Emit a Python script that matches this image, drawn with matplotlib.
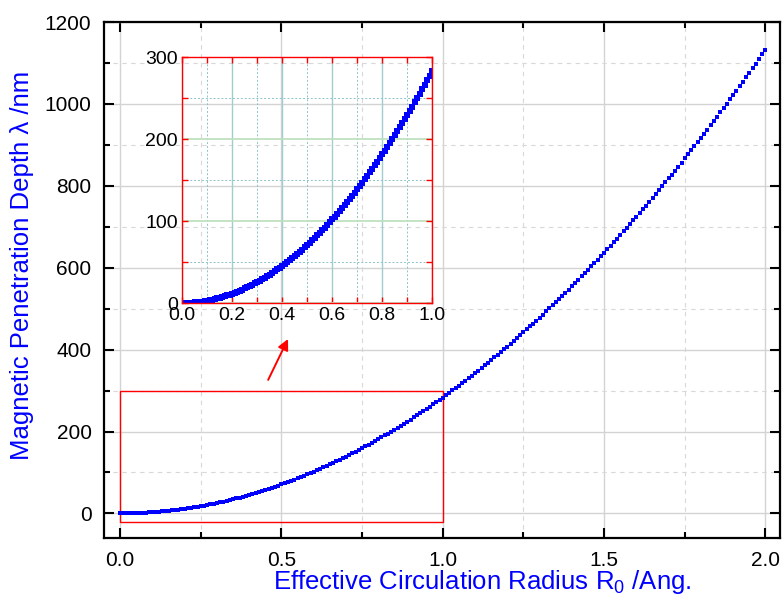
import numpy as np
import matplotlib
matplotlib.use("Agg")
import matplotlib.pyplot as plt
from matplotlib.ticker import MultipleLocator
from matplotlib.patches import Rectangle

plt.rcParams['font.family'] = ['Liberation Sans', 'DejaVu Sans']
plt.rcParams['mathtext.default'] = 'regular'

# effective circulation radius R0 (Ang.), step 0.01
radius = np.arange(201) / 100.0
# magnetic penetration depth (nm)
depth = [
    0.0, 0.0, 0.1, 0.3, 0.5, 0.7, 1.0, 1.4, 1.8, 2.3,
    2.8, 3.4, 4.1, 4.8, 5.5, 6.4, 7.2, 8.2, 9.2, 10.2,
    11.3, 12.5, 13.7, 15.0, 16.3, 17.7, 19.1, 20.6, 22.2, 23.8,
    25.5, 27.2, 29.0, 30.8, 32.7, 34.7, 36.7, 38.7, 40.9, 43.0,
    45.3, 47.6, 49.9, 52.3, 54.8, 57.3, 59.9, 62.5, 65.2, 68.0,
    70.8, 73.6, 76.5, 79.5, 82.5, 85.6, 88.8, 92.0, 95.2, 98.5,
    101.9, 105.3, 108.8, 112.3, 115.9, 119.6, 123.3, 127.0, 130.9, 134.7,
    138.7, 142.7, 146.7, 150.8, 155.0, 159.2, 163.5, 167.8, 172.2, 176.6,
    181.1, 185.7, 190.3, 195.0, 199.7, 204.5, 209.3, 214.2, 219.2, 224.2,
    229.2, 234.4, 239.5, 244.8, 250.1, 255.4, 260.8, 266.3, 271.8, 277.4,
    283.0, 288.7, 294.4, 300.2, 306.1, 312.0, 318.0, 324.0, 330.1, 336.2,
    342.4, 348.7, 355.0, 361.4, 367.8, 374.3, 380.8, 387.4, 394.1, 400.8,
    407.5, 414.3, 421.2, 428.2, 435.1, 442.2, 449.3, 456.5, 463.7, 470.9,
    478.3, 485.7, 493.1, 500.6, 508.2, 515.8, 523.4, 531.2, 539.0, 546.8,
    554.7, 562.6, 570.6, 578.7, 586.8, 595.0, 603.2, 611.5, 619.9, 628.3,
    636.8, 645.3, 653.8, 662.5, 671.2, 679.9, 688.7, 697.6, 706.5, 715.5,
    724.5, 733.6, 742.7, 751.9, 761.2, 770.5, 779.8, 789.3, 798.7, 808.3,
    817.9, 827.5, 837.2, 847.0, 856.8, 866.7, 876.6, 886.6, 896.7, 906.8,
    916.9, 927.1, 937.4, 947.7, 958.1, 968.6, 979.1, 989.6, 1000.2, 1010.9,
    1021.6, 1032.4, 1043.3, 1054.2, 1065.1, 1076.1, 1087.2, 1098.3, 1109.5, 1120.7,
    1132.0,
]
depth = np.array(depth)

fig = plt.figure(figsize=(7.83, 6.03), dpi=100)
ax = fig.add_axes([104/783, 1 - 538/603, 676/783, 516/603])

ax.plot(radius, depth, 's', color='#0000ff', markersize=3.1, markeredgewidth=0)
ax.set_xlim(-0.05, 2.045)
ax.set_ylim(-60, 1200)

ax.xaxis.set_major_locator(MultipleLocator(0.5))
ax.xaxis.set_minor_locator(MultipleLocator(0.25))
ax.yaxis.set_major_locator(MultipleLocator(200))
ax.yaxis.set_minor_locator(MultipleLocator(100))
ax.xaxis.set_major_formatter(plt.FormatStrFormatter('%.1f'))

ax.grid(which='major', color='#d3d3d3', lw=1.0, ls='-')
ax.grid(which='minor', color='#d8d8d8', lw=0.8, ls=(0, (4, 4)))
ax.set_axisbelow(True)

for s in ax.spines.values():
    s.set_linewidth(1.6)
ax.tick_params(which='both', direction='in', top=True, right=True, width=1.5)
ax.tick_params(which='major', length=7, labelsize=15, pad=9)
ax.tick_params(which='minor', length=4)

ax.set_xlabel('Effective Circulation Radius R$_0$ /Ang.', color='#0000ff', fontsize=18.5)
ax.xaxis.set_label_coords((482 - 104) / 676, -0.058)
ax.set_ylabel('Magnetic Penetration Depth \u03bb /nm', color='#0000ff', fontsize=18.5)
ax.yaxis.set_label_coords(-0.104, (538 - 265) / 516)

# zoom box and arrow
ax.add_patch(Rectangle((0.0, -20), 1.0, 320, fill=False, edgecolor='#ff0000', lw=1.0))
ax.annotate('', xy=(0.524, 432), xytext=(0.455, 320),
            arrowprops=dict(arrowstyle='-|>', color='#ff0000', lw=1.4, mutation_scale=16))

# inset (transparent, so the main grid shows through)
ins = fig.add_axes([182/783, 1 - 303/603, 250/783, 246/603])
ins.patch.set_alpha(0)
mask = radius <= 1.0
ins.plot(radius[mask], depth[mask], 's', color='#0000ff', markersize=4.0, markeredgewidth=0)
ins.set_xlim(0, 1.0)
ins.set_ylim(0, 300)
ins.xaxis.set_major_locator(MultipleLocator(0.2))
ins.xaxis.set_minor_locator(MultipleLocator(0.1))
ins.yaxis.set_major_locator(MultipleLocator(100))
ins.yaxis.set_minor_locator(MultipleLocator(50))
ins.xaxis.set_major_formatter(plt.FormatStrFormatter('%.1f'))
ins.grid(which='major', axis='x', color='#a3cccc', lw=1.0, ls='-')
ins.grid(which='major', axis='y', color='#bfe0bf', lw=1.3, ls='-')
ins.grid(which='minor', color='#8cc4c8', lw=0.7, ls=(0, (2, 2)))
ins.set_axisbelow(True)
for s in ins.spines.values():
    s.set_color('#ff0000')
    s.set_linewidth(1.0)
ins.tick_params(which='both', direction='in', top=True, right=True, color='#ff0000', width=1.0)
ins.tick_params(which='major', length=4, labelsize=14, pad=3)
ins.tick_params(which='minor', length=4)

fig.savefig('out.png', dpi=100)
